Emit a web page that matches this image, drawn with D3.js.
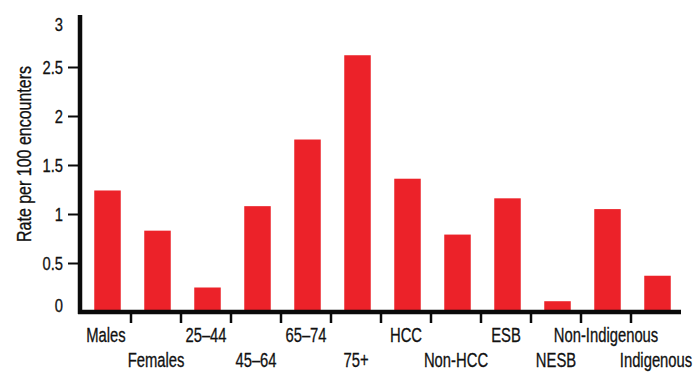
<!DOCTYPE html>
<html>
<head>
<meta charset="utf-8">
<script src="https://cdn.jsdelivr.net/npm/d3@7"></script>
<style>
  html, body { margin: 0; padding: 0; background: #fff; }
  svg { display: block; }
  text { font-family: "Liberation Sans", Arial, sans-serif; fill: #111; stroke: #111; stroke-width: 0.3px; }
</style>
</head>
<body>
<svg id="chart" width="695" height="392"></svg>
<script>
const categories = ["Males", "Females", "25–44", "45–64", "65–74", "75+", "HCC", "Non-HCC", "ESB", "NESB", "Non-Indigenous", "Indigenous"];
const values = [1.24, 0.83, 0.25, 1.08, 1.76, 2.62, 1.36, 0.79, 1.16, 0.11, 1.05, 0.37];
const yTicks = [0, 0.5, 1, 1.5, 2, 2.5, 3];
const yTickLabels = ["0", "0.5", "1", "1.5", "2", "2.5", "3"];
const yTitle = "Rate per 100 encounters";

const svg = d3.select("#chart");
const red = "#ec2229";
const ink = "#0a0a0a";

function narrow(sel, sx) {
  sel.each(function() {
    const t = d3.select(this);
    const tx = +t.attr("x") || 0, ty = +t.attr("y") || 0;
    t.attr("x", 0).attr("y", 0)
     .attr("transform", `translate(${tx},${ty}) scale(${sx},1)`);
  });
}

const x = d3.scaleBand().domain(categories).range([81, 681]).padding(0);
const y = d3.scaleLinear().domain([0, 3]).range([312, 18]);

// bars
svg.append("g").selectAll("rect").data(values).join("rect")
  .attr("x", (d, i) => x(categories[i]) + x.bandwidth() * 0.265)
  .attr("width", x.bandwidth() * 0.53)
  .attr("y", d => y(d))
  .attr("height", d => y(0) - y(d))
  .attr("fill", red);

// y axis
const yAxis = d3.axisLeft(y).tickValues(yTicks)
  .tickFormat((d, i) => yTickLabels[i]).tickSize(12).tickPadding(5);
const gy = svg.append("g").attr("transform", "translate(80,0)").call(yAxis);
gy.select(".domain").remove();
gy.selectAll(".tick line").attr("stroke", ink).attr("stroke-width", 2)
  .attr("display", d => (d === 0 || d === 3) ? "none" : null);
gy.selectAll(".tick text")
  .style("font-size", "18px")
  .attr("fill", ink)
  .attr("dy", d => d === 3 ? "0.72em" : d === 0 ? "-0.05em" : "0.35em")
  .call(narrow, 0.82);

// x axis ticks (band boundaries)
const xAxis = d3.axisBottom(x).tickSize(0).tickFormat("");
const gx = svg.append("g").attr("transform", "translate(0,312)").call(xAxis);
gx.select(".domain").remove();
gx.selectAll(".tick").each(function(d, i) {
  if (i === 0) return;
  d3.select(this).append("line")
    .attr("x1", -x.step() / 2).attr("x2", -x.step() / 2)
    .attr("y1", 0).attr("y2", 11)
    .attr("stroke", ink).attr("stroke-width", 2.5);
});
gx.selectAll(".tick").append("text")
  .attr("y", (d, i) => i % 2 === 0 ? 30 : 55)
  .attr("text-anchor", "middle")
  .style("font-size", "19.5px")
  .attr("fill", ink)
  .text(d => d)
  .call(narrow, 0.76);

// axis lines
svg.append("line").attr("x1", 80).attr("x2", 80).attr("y1", 15).attr("y2", 314)
  .attr("stroke", ink).attr("stroke-width", 4.5);
svg.append("line").attr("x1", 78).attr("x2", 681).attr("y1", 312).attr("y2", 312)
  .attr("stroke", ink).attr("stroke-width", 4.5);

// y title
svg.append("text")
  .attr("transform", "translate(31,154) rotate(-90) scale(0.82,1)")
  .attr("text-anchor", "middle")
  .style("font-size", "19.5px")
  .attr("fill", ink)
  .text(yTitle);
</script>
</body>
</html>
